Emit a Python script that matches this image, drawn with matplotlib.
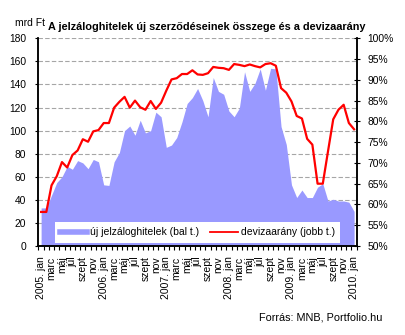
import matplotlib
matplotlib.use("Agg")
import matplotlib.pyplot as plt
from matplotlib.lines import Line2D
from matplotlib.ticker import FixedLocator, FuncFormatter

plt.rcParams['font.family'] = ['Liberation Sans', 'DejaVu Sans']

# Monthly data, 2005 jan .. 2010 jan
month_names = ["jan", "febr", "marc", "ápr", "máj", "jún",
               "júl", "aug", "szept", "okt", "nov", "dec"]
years = [2005, 2006, 2007, 2008, 2009, 2010]

# New mortgage contracts, billion HUF (left axis)
new_mortgages = [33, 33, 44, 55, 60, 69, 66.5, 74, 72, 67, 75, 73,
                 53, 52.5, 73, 81, 100, 104, 96, 109, 98, 100, 116, 112,
                 85.5, 87.5, 94, 107.5, 123.5, 128.6, 136.5, 126, 112, 146, 134, 131.5,
                 117, 112, 119.5, 151, 134, 141, 153.5, 135, 154, 153.5, 103.5, 88,
                 53, 42, 48.5, 42, 42, 51, 54, 39, 40.5, 39, 39, 38,
                 30]

# Share of foreign-currency loans, % (right axis)
fx_share = [58.2, 58.2, 64.6, 66.8, 70.2, 68.9, 71.9, 73.0, 75.7, 75.1, 77.6, 77.9,
            79.6, 79.6, 83.3, 84.7, 85.9, 83.3, 85.0, 83.4, 82.8, 84.9, 83.0, 84.5,
            87.4, 90.1, 90.4, 91.4, 91.4, 92.3, 91.3, 91.2, 91.6, 93.1, 92.9, 92.8,
            92.4, 93.8, 93.6, 93.3, 93.7, 93.3, 93.0, 93.8, 94.0, 93.4, 88.0, 86.9,
            84.8, 81.3, 80.7, 75.8, 74.4, 65.0, 65.0, 72.8, 80.5, 82.8, 84.0, 79.6,
            78.1]

n = len(new_mortgages)
x = list(range(n))
labels = []
for k in range(n):
    y, m = years[0] + k // 12, k % 12
    labels.append(f"{y}. {month_names[m]}" if m == 0 else month_names[m])

BLUE = "#9999FF"
RED = "#FF0000"

fig = plt.figure(figsize=(4.06, 3.35), dpi=100)
ax = fig.add_axes([38.5 / 406, 1 - 246 / 335, (356.7 - 38.5) / 406, (246 - 38.3) / 335])

ax.fill_between(x, 0, new_mortgages, color=BLUE, linewidth=0, zorder=2)
ax.set_xlim(-0.5, n - 0.5)
ax.set_ylim(0, 180)
ax.set_yticks(range(0, 181, 20))
ax.yaxis.grid(True, color="#a6a6a6", linestyle=(0, (4, 2)), linewidth=0.8)
ax.set_axisbelow(True)

# category labels every two months, tick marks between categories
ax.xaxis.set_major_locator(FixedLocator(x[::2]))
ax.set_xticklabels(labels[::2], rotation=90, va="top", ha="center", fontsize=7.5)
ax.xaxis.set_minor_locator(FixedLocator([k - 0.5 for k in range(n + 1)]))
ax.tick_params(axis="x", which="major", length=0, pad=7.5)
ax.tick_params(axis="x", which="minor", length=2.6, width=0.8, direction="out")
ax.tick_params(axis="y", length=2.5, width=0.8, direction="out", labelsize=7.4, pad=6.3)

for side in ("left", "right", "bottom"):
    ax.spines[side].set_linewidth(1.1)
    ax.spines[side].set_color("black")
ax.spines["top"].set_visible(False)

ax2 = ax.twinx()
ax2.plot(x, fx_share, color=RED, linewidth=1.6, zorder=3)
ax2.set_ylim(50, 100)
ax2.set_yticks(range(50, 101, 5))
ax2.yaxis.set_major_formatter(FuncFormatter(lambda v, p: f"{v:.0f}%"))
ax2.tick_params(axis="y", length=4.5, width=0.8, direction="inout", labelsize=7.4, pad=5.5)
for side in ("left", "right", "bottom"):
    ax2.spines[side].set_linewidth(1.1)
ax2.spines["top"].set_visible(False)

handles = [Line2D([], [], color=BLUE, linewidth=4.0),
           Line2D([], [], color=RED, linewidth=1.3)]
fig.legend(handles, ["új jelzáloghitelek (bal t.)", "devizaarány (jobb t.)"],
           loc="lower left", bbox_to_anchor=(55 / 406, 1 - 242.7 / 335, 285 / 406, 22 / 335),
           mode="expand", ncol=2, frameon=True, fancybox=False, facecolor="white",
           edgecolor="none", framealpha=1, fontsize=7.5, handlelength=2.6,
           handletextpad=0.3, borderaxespad=0, borderpad=0.5, columnspacing=1.0)

fig.text(48.3 / 406, 1 - 26.7 / 335, "A jelzáloghitelek új szerződéseinek összege és a devizaarány",
         fontsize=7.8, fontweight="bold", ha="left", va="center")
fig.text(15 / 406, 1 - 23.3 / 335, "mrd Ft", fontsize=7.5, ha="left", va="center")
fig.text(382.7 / 406, 1 - 317.7 / 335, "Forrás: MNB, Portfolio.hu", fontsize=7.8,
         ha="right", va="center")

fig.savefig("out.png", dpi=100, facecolor="white")
